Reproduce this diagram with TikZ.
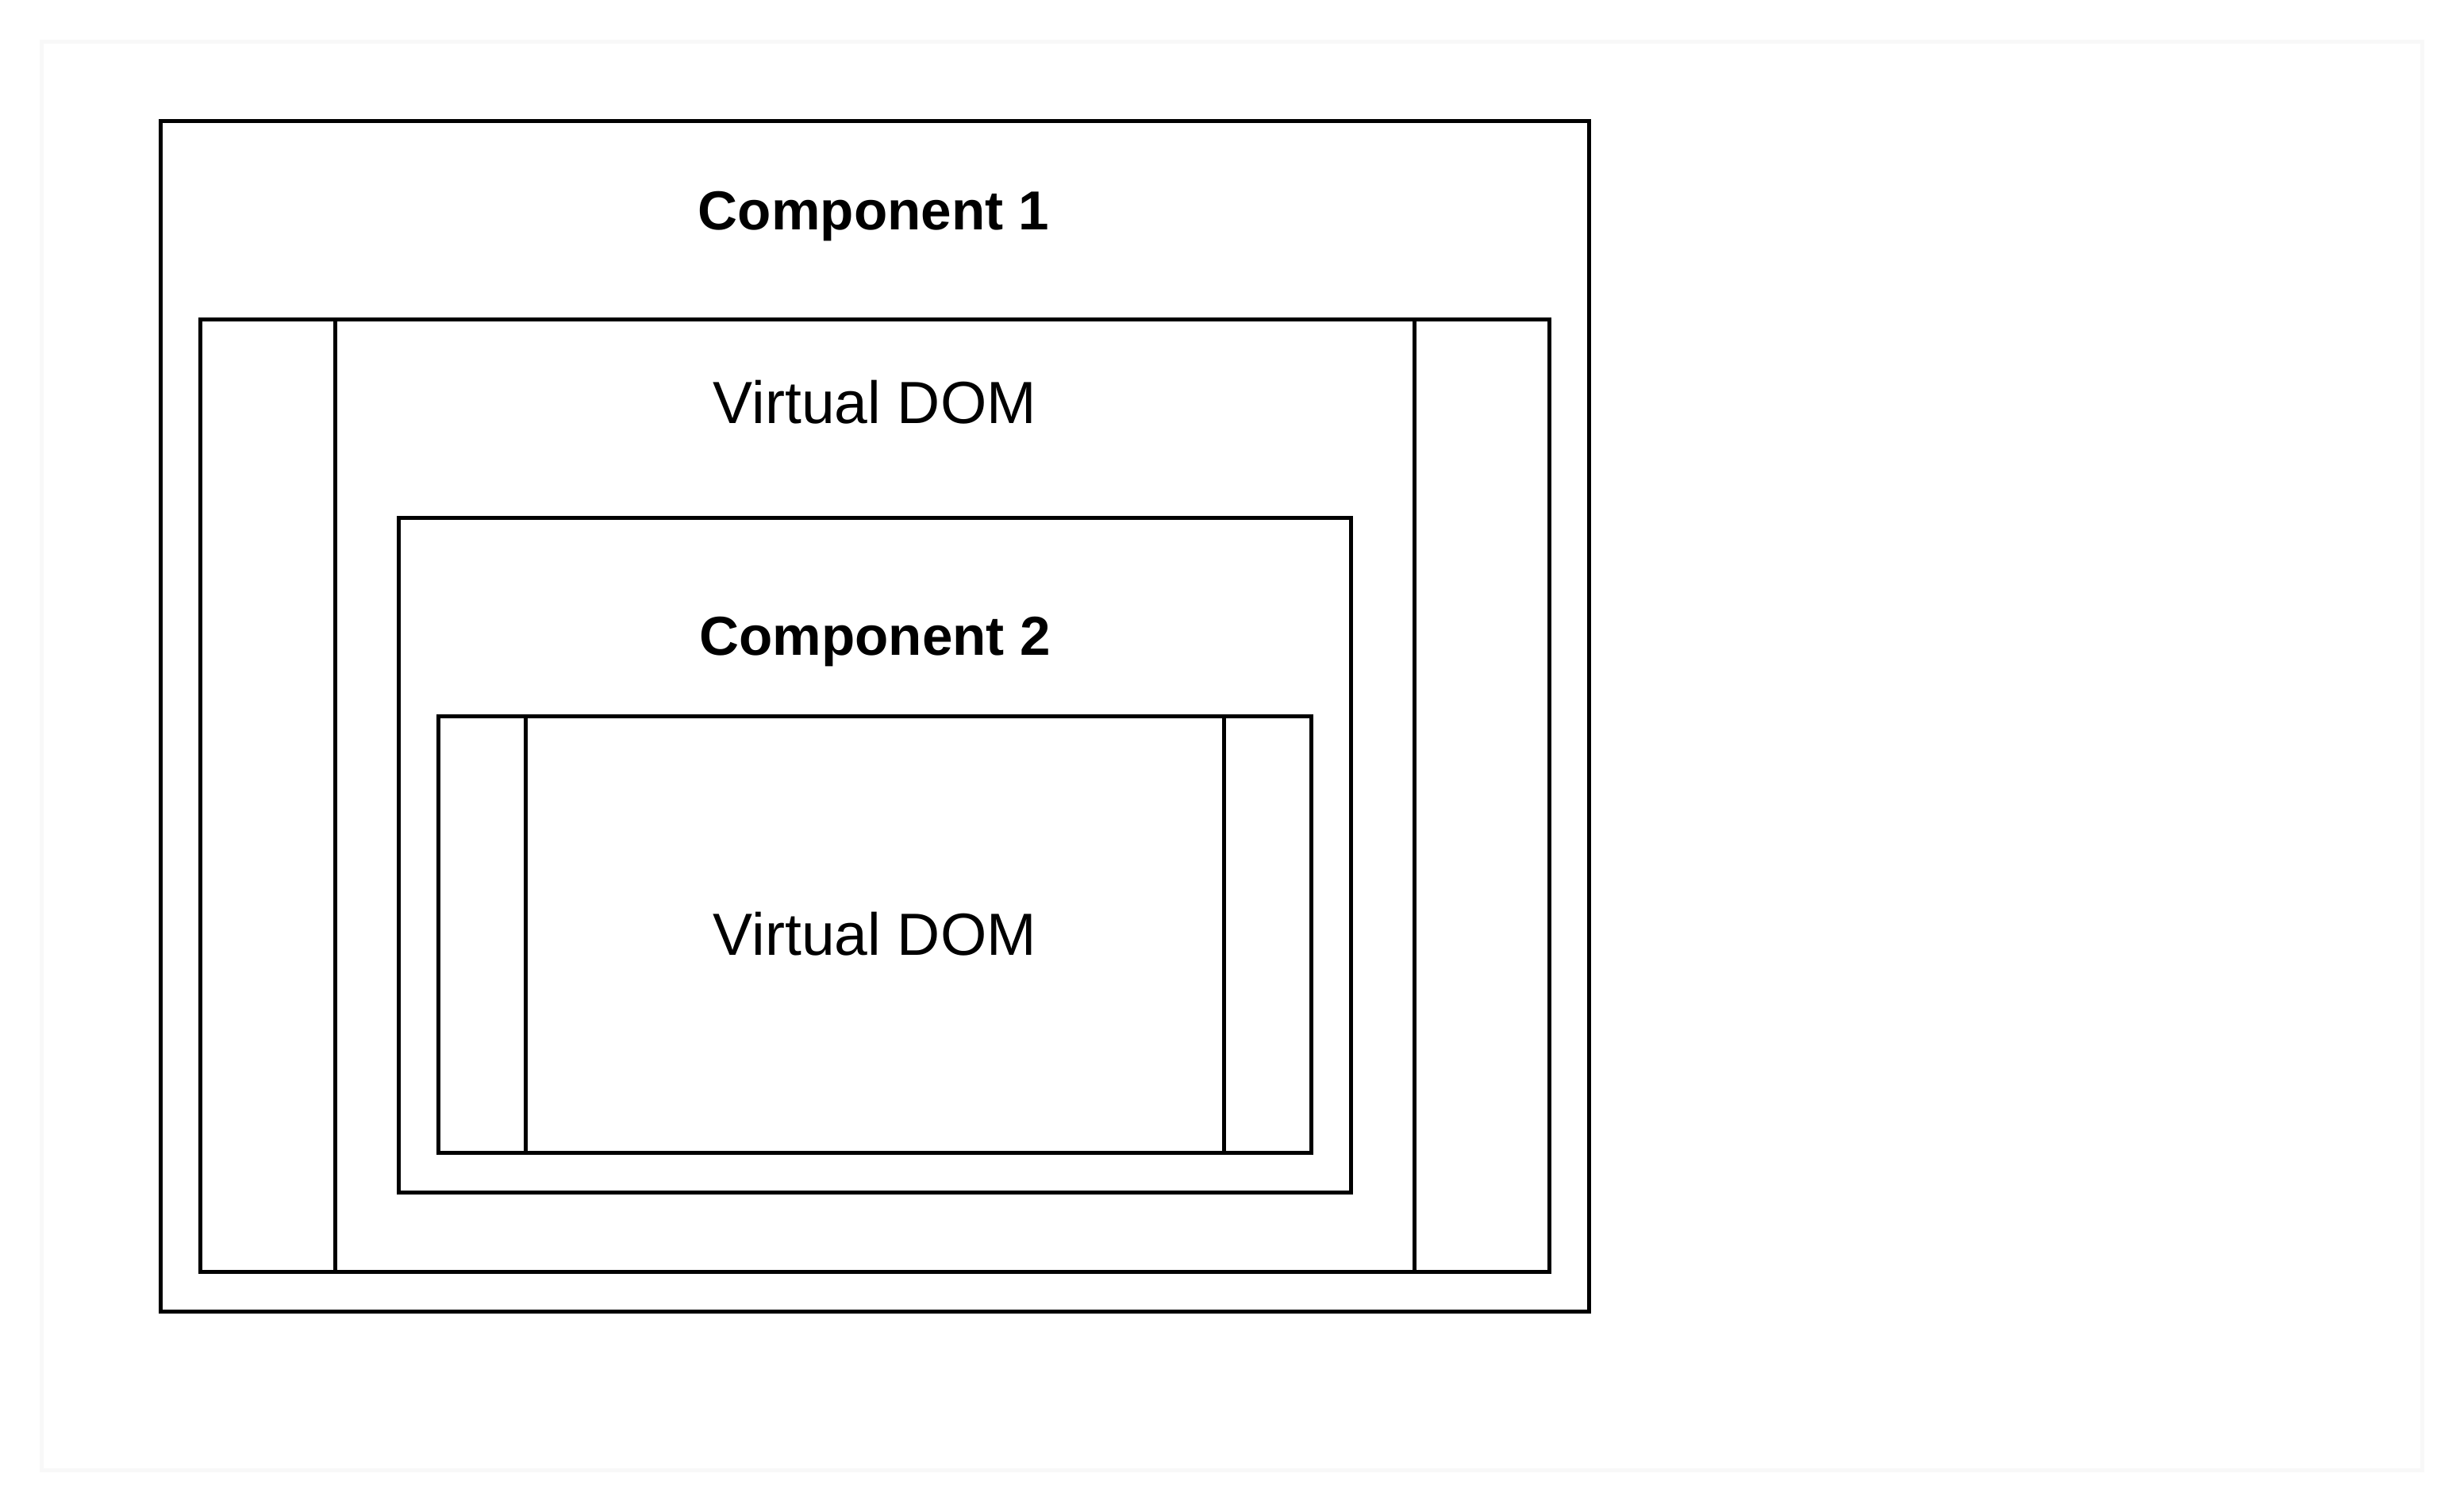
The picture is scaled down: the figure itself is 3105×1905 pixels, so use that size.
\documentclass[tikz,border=0pt]{standalone}
\usepackage{fontspec}
\setmainfont{Liberation Sans}
\definecolor{faint}{RGB}{248,248,248}
\begin{document}
\begin{tikzpicture}[x=0.25pt,y=-0.25pt,
  box/.style={draw=black, line width=1.25pt, inner sep=0pt, outer sep=0pt, rectangle},
  framebox/.style={draw=faint, line width=1.25pt, inner sep=0pt, outer sep=0pt, rectangle},
  divider/.style={draw=black, line width=1.25pt},
  boldtxt/.style={font=\fontsize{17.3}{21}\selectfont\bfseries, anchor=base, inner sep=0pt},
  plaintxt/.style={font=\fontsize{18.75}{22.5}\selectfont, anchor=base, inner sep=0pt}]
\fill[white] (0,0) rectangle (3105,1905);
\useasboundingbox (0,0) rectangle (3105,1905);
% faint outer frame
\node[framebox, minimum width=750pt, minimum height=450pt] (frame) at (1552.5,952.5) {};
% Component 1
\node[box, minimum width=450pt, minimum height=375pt] (c1) at (1102.5,902.5) {};
% Virtual DOM 1
\node[box, minimum width=425pt, minimum height=300pt] (vd1) at (1102.5,1002.5) {};
\draw[divider] ([xshift=42.5pt]vd1.north west) -- ([xshift=42.5pt]vd1.south west);
\draw[divider] ([xshift=-42.5pt]vd1.north east) -- ([xshift=-42.5pt]vd1.south east);
% Component 2
\node[box, minimum width=300pt, minimum height=212.5pt] (c2) at (1102.5,1077.5) {};
% Virtual DOM 2
\node[box, minimum width=275pt, minimum height=137.5pt] (vd2) at (1102.5,1177.5) {};
\draw[divider] ([xshift=27.5pt]vd2.north west) -- ([xshift=27.5pt]vd2.south west);
\draw[divider] ([xshift=-27.5pt]vd2.north east) -- ([xshift=-27.5pt]vd2.south east);
% labels
\node[boldtxt] (t1) at (1101,290) {Component 1};
\node[plaintxt] (t2) at (1102.5,533) {Virtual DOM};
\node[boldtxt] (t3) at (1102.5,825) {Component 2};
\node[plaintxt] (t4) at (1102.5,1203) {Virtual DOM};
\end{tikzpicture}
\end{document}
